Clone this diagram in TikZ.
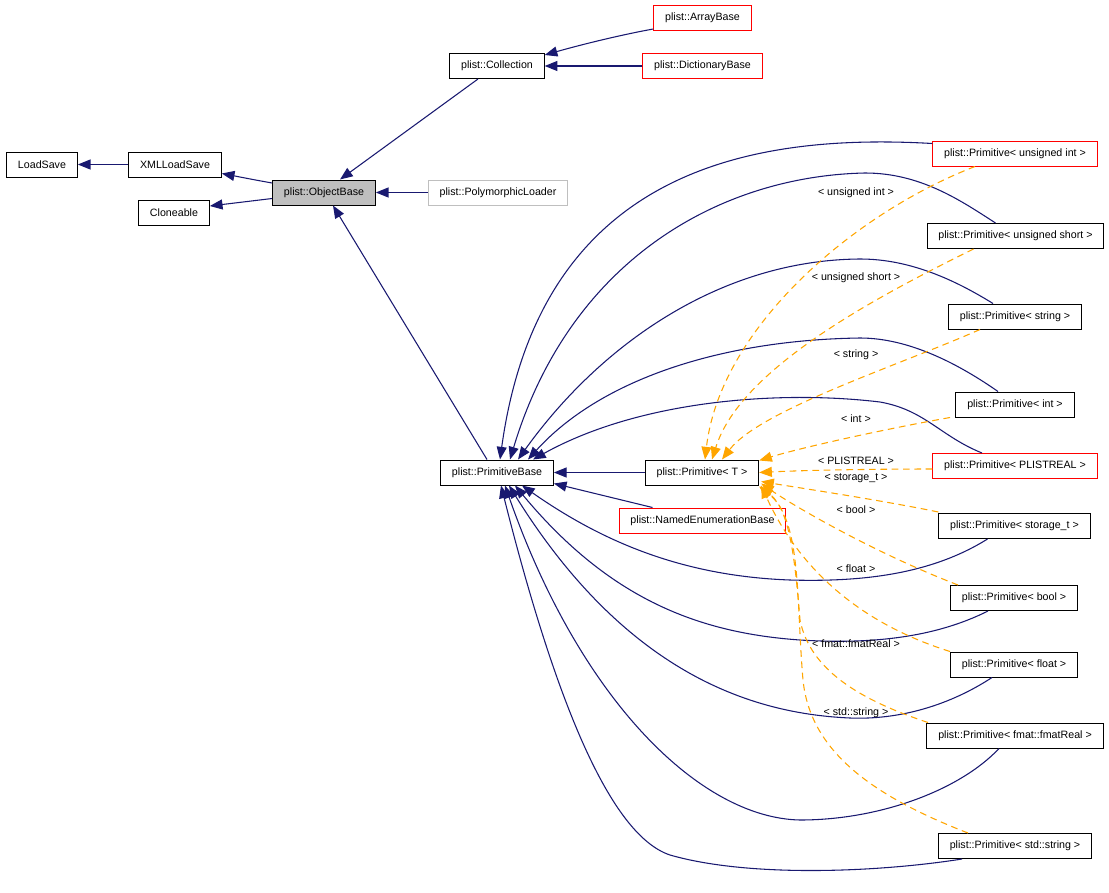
\documentclass[tikz,border=0pt]{standalone}
\usepackage{fontspec}
\setmainfont{Liberation Sans}
\usetikzlibrary{arrows.meta,calc}
\definecolor{edgeblue}{RGB}{25,25,112}
\definecolor{tmplorange}{RGB}{255,165,0}
\definecolor{boxgray}{RGB}{191,191,191}

\begin{document}
\begin{tikzpicture}[x=0.75pt, y=-0.75pt,
    cls/.style={draw=black, line width=0.75pt, fill=white, font=\fontsize{8}{9.6}\selectfont,
        inner xsep=8.5pt, inner ysep=0pt, minimum height=18.75pt},
    clsred/.style={cls, draw=red},
    inh/.style={draw=edgeblue, line width=0.8pt, -{Triangle[length=9.5pt,width=7.5pt]}},
    tmpl/.style={draw=tmplorange, line width=0.8pt, dash pattern=on 5pt off 3.5pt,
        -{Triangle[length=9.5pt,width=7.5pt]}},
    lbl/.style={font=\fontsize{8}{9.6}\selectfont, inner sep=0pt}]
        \useasboundingbox (0,0) rectangle (1109,892);

        % Left part: loaders and object base
        \node[cls] (ls) at (42,164.5) {LoadSave};
        \node[cls] (xml) at (175,164.5) {XMLLoadSave};
        \node[cls] (cl) at (174,212.5) {Cloneable};
        \node[cls, fill=boxgray] (ob) at (324,192.5) {plist::ObjectBase};
        \node[cls, draw=boxgray] (pl) at (498,192.5) {plist::PolymorphicLoader};

        % Collections
        \node[cls] (col) at (497,66) {plist::Collection};
        \node[clsred] (ab) at (702.5,18) {plist::ArrayBase};
        \node[clsred] (db) at (702.5,66) {plist::DictionaryBase};

        % Primitive bases
        \node[cls] (pb) at (497,472.5) {plist::PrimitiveBase};
        \node[cls] (pt) at (702,472.5) {plist::Primitive< T >};
        \node[clsred] (neb) at (702.5,520.5) {plist::NamedEnumerationBase};

        % Template instances
        \node[clsred] (pui) at (1015,153.5) {plist::Primitive< unsigned int >};
        \node[cls] (pus) at (1015.5,236) {plist::Primitive< unsigned short >};
        \node[cls] (pstr) at (1015,316.5) {plist::Primitive< string >};
        \node[cls] (pint) at (1015,404.5) {plist::Primitive< int >};
        \node[clsred] (pplr) at (1015,466) {plist::Primitive< PLISTREAL >};
        \node[cls] (pst) at (1014.5,526) {plist::Primitive< storage\_t >};
        \node[cls] (pbool) at (1014,598) {plist::Primitive< bool >};
        \node[cls] (pfl) at (1014,664.5) {plist::Primitive< float >};
        \node[cls] (pfm) at (1015,735.5) {plist::Primitive< fmat::fmatReal >};
        \node[cls] (pss) at (1015,846) {plist::Primitive< std::string >};

        % Inheritance, top
        \draw[inh] (xml) -- (ls);
        \draw[inh] ($(ob.west)+(0,-9.5)$) .. controls (255,180) and (240,177) .. ($(xml.south east)+(0,-4)$);
        \draw[inh] ($(ob.west)+(0,6)$) -- ($(cl.east)+(0,-6.5)$);
        \draw[inh] ($(col.south)+(-19,0)$) -- ($(ob.north)+(16,0)$);
        \draw[inh] (pl) -- (ob);
        \draw[inh] ($(pb.north)+(-10,0)$) -- ($(ob.south)+(9,0)$);
        \draw[inh] ($(ab.west)+(0,11)$) .. controls (620,35) and (580,45) .. ($(col.north east)+(0,2)$);
        \draw[inh] (db) -- (col);

        % Inheritance, primitive base
        \draw[inh] (pt) -- (pb);
        \draw[inh] ($(neb.north)+(-50,0)$) -- ($(pb.south east)+(0,-2)$);

        \draw[inh] ($(pui.north west)+(0,3)$) .. controls (750,133) and (540,170) .. ($(pb.north)+(3,0)$);
        \draw[inh] ($(pus.north)+(-20,0)$) .. controls (960,200) and (920,173) .. (865,173)
            .. controls (720,176) and (570,260) .. ($(pb.north)+(13,0)$);
        \draw[inh] ($(pstr.north)+(-22,0)$) .. controls (955,280) and (910,259) .. (860,259)
            .. controls (720,260) and (600,345) .. ($(pb.north)+(21,0)$);
        \draw[inh] ($(pint.north)+(-17,0)$) .. controls (960,365) and (910,338) .. (860,338)
            .. controls (720,340) and (600,380) .. ($(pb.north)+(31,0)$);
        \draw[inh] ($(pplr.north)+(-33,0)$) .. controls (940,436) and (925,410) .. (880,402)
            .. controls (780,390) and (640,400) .. ($(pb.north)+(36,0)$);

        \draw[inh] ($(pst.south)+(-27,0)$) .. controls (930,575) and (860,582) .. (790,580)
            .. controls (680,576) and (600,540) .. ($(pb.south)+(25,0)$);
        \draw[inh] ($(pbool.south)+(-26,0)$) .. controls (940,635) and (880,645) .. (800,640)
            .. controls (700,633) and (610,600) .. ($(pb.south)+(18,0)$);
        \draw[inh] ($(pfl.south)+(-22,0)$) .. controls (950,705) and (900,720) .. (850,718)
            .. controls (760,714) and (630,680) .. ($(pb.south)+(12,0)$);
        \draw[inh] ($(pfm.south)+(-16,0)$) .. controls (960,790) and (880,820) .. (800,820)
            .. controls (700,818) and (580,700) .. ($(pb.south)+(8,0)$);
        \draw[inh] ($(pss.south)+(-53,0)$) .. controls (880,872) and (750,878) .. (670,855)
            .. controls (610,835) and (555,700) .. ($(pb.south)+(4,0)$);

        % Template arguments
        \draw[tmpl] ($(pui.south)+(-40,0)$) .. controls (850,215) and (720,330) .. ($(pt.north)+(3,0)$);
        \draw[tmpl] ($(pus.south)+(-42,0)$) .. controls (870,300) and (740,370) .. ($(pt.north)+(10,0)$);
        \draw[tmpl] ($(pstr.south)+(-35,0)$) .. controls (900,365) and (760,410) .. ($(pt.north)+(20,0)$);
        \draw[tmpl] ($(pint.south)+(-65,0)$) .. controls (880,430) and (800,448) .. ($(pt.north east)+(0,1)$);
        \draw[tmpl] ($(pplr.west)+(0,3)$) .. controls (880,469) and (810,470) .. (pt.east);
        \draw[tmpl] ($(pst.north west)+(0,-1)$) .. controls (880,500) and (800,488) .. ($(pt.south east)+(2,-4)$);
        \draw[tmpl] ($(pbool.north)+(-56,0)$) .. controls (880,555) and (800,510) .. ($(pt.south east)+(2,-2)$);
        \draw[tmpl] (pfl.north west) .. controls (850,620) and (795,560) .. ($(pt.south east)+(2,0)$);
        \draw[tmpl] ($(pfm.north)+(-87,0)$) .. controls (860,700) and (810,670) .. (800,620)
            .. controls (795,560) and (790,510) .. ($(pt.south east)+(1,1)$);
        \draw[tmpl] ($(pss.north)+(-47,0)$) .. controls (870,795) and (810,750) .. (803,680)
            .. controls (796,600) and (802,520) .. ($(pt.south east)+(0,1)$);

        % Labels
        \node[lbl] (lui) at (856,193) {< unsigned int >};
        \node[lbl] (lus) at (856,278) {< unsigned short >};
        \node[lbl] (lstr) at (856,355) {< string >};
        \node[lbl] (lint) at (856,419) {< int >};
        \node[lbl] (lplr) at (856,461) {< PLISTREAL >};
        \node[lbl] (lst) at (856,478) {< storage\_t >};
        \node[lbl] (lbool) at (856,510) {< bool >};
        \node[lbl] (lfl) at (856,569) {< float >};
        \node[lbl] (lfm) at (856,644) {< fmat::fmatReal >};
        \node[lbl] (lss) at (856,713) {< std::string >};
    \end{tikzpicture}
\end{document}
